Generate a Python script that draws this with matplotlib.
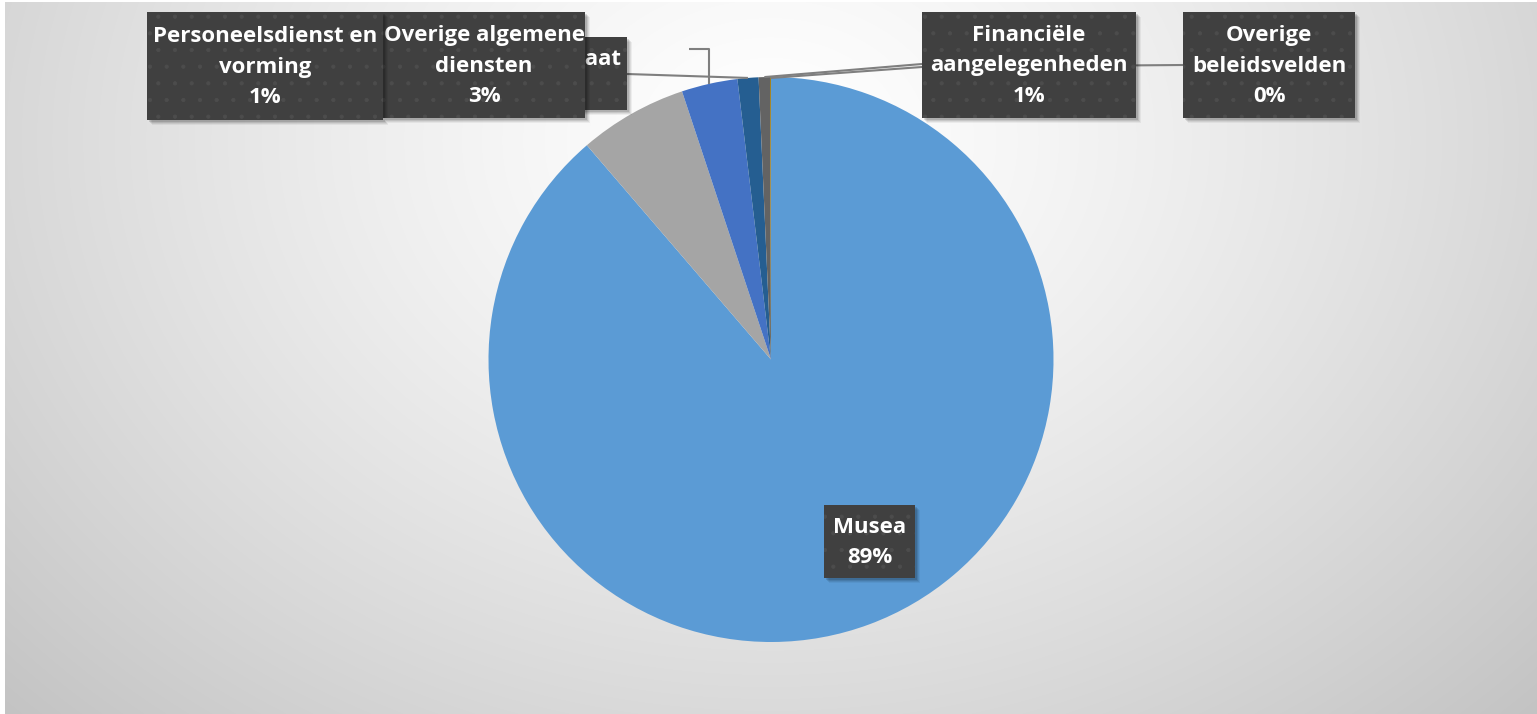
import numpy as np
import matplotlib.pyplot as plt
from matplotlib.patches import Rectangle

plt.rcParams['hatch.linewidth'] = 0.6

# data
categories = ['Musea', 'Secretariaat', 'Overige algemene diensten',
              'Personeelsdienst en vorming', 'Financiële aangelegenheden',
              'Overige beleidsvelden']
values = [88.7, 6.2, 3.2, 1.2, 0.65, 0.05]
colors = ['#5B9BD5', '#A5A5A5', '#4472C4', '#255E91', '#636363', '#997300']
label_text = ['Musea', 'Secretariaat', 'Overige algemene\ndiensten',
              'Personeelsdienst en\nvorming', 'Financiële\naangelegenheden',
              'Overige\nbeleidsvelden']

W, H = 1537, 714
fig = plt.figure(figsize=(W / 100, H / 100), dpi=100)
fig.patch.set_facecolor('white')
ax = fig.add_axes([0, 0, 1, 1])


def py(y):
    # pixel row (from top) -> data y
    return H - y


# pie
cx, cy, rad = 771, py(359.5), 282.5
wedges, _ = ax.pie(values, colors=colors, startangle=90, counterclock=False,
                   center=(cx, cy), radius=rad, frame=True)
ax.set_xlim(0, W)
ax.set_ylim(0, H)
ax.set_aspect('equal')
ax.axis('off')
for w in wedges:
    w.set_zorder(2)

# radial background gradient
gx, gy = np.meshgrid(np.arange(5, W), np.arange(2, H))
r = np.sqrt(((gx - 770) / 900.0) ** 2 + ((gy - 140) / 700.0) ** 2)
t = np.clip(r / 1.2, 0, 1) ** 1.3
g = 1.0 - t * (1 - 0.76)
img = np.dstack([g, g, g])
ax.imshow(img, extent=[5, W, py(H), py(2)], origin='upper', zorder=0,
          interpolation='bilinear', aspect='auto')

pcts = [v / sum(values) * 100 for v in values]


def rim(i):
    w = wedges[i]
    a = np.deg2rad((w.theta1 + w.theta2) / 2)
    return cx + rad * np.cos(a), cy + rad * np.sin(a)


line_kw = dict(color='#7f7f7f', lw=1.5, zorder=3, solid_capstyle='butt')

# leader lines
x1, y1 = rim(3)
ax.plot([627, x1], [py(74), y1], **line_kw)
x2, y2 = rim(2)
ax.plot([689, x2, x2], [py(49), py(49), y2], **line_kw)
x4, y4 = rim(4)
ax.plot([922, x4], [py(64), y4], **line_kw)
x5, y5 = rim(5)
ax.plot([1183, 922, x5], [py(65), py(67), y5 - 1], **line_kw)

font = dict(color='white', fontsize=16, fontweight='bold',
            family=['Open Sans', 'DejaVu Sans'], linespacing=1.6,
            multialignment='center', ha='center', va='center')

# label boxes in drawing order: (index, left, top, right, bottom) in pixels
# left None = fit box to text
boxes = [
    (1, None, 37, 627, 110),
    (2, 383, 12, 585, 118),
    (3, 147, 12, 383, 120),
    (4, 922, 12, 1136, 118),
    (5, 1183, 12, 1355, 118),
    (0, 824, 505, 915, 578),
]

fig.canvas.draw()
renderer = fig.canvas.get_renderer()

z = 4
for i, l, t_, rr, b in boxes:
    txt = f"{label_text[i]}\n{pcts[i]:.0f}%"
    tx = ax.text(0, 0, txt, zorder=z + 0.2, **font)
    if l is None:
        bb = tx.get_window_extent(renderer)
        l = rr - bb.width - 10
    for k, a in [(5, 0.05), (4, 0.07), (3, 0.09), (2, 0.12)]:
        ax.add_patch(Rectangle((l + k, py(b + k)), rr - l, b - t_,
                               facecolor='black', alpha=a, lw=0, zorder=z))
    ax.add_patch(Rectangle((l, py(b)), rr - l, b - t_, facecolor='#404040',
                           edgecolor='#4c4c4c', hatch='.', lw=0, zorder=z + 0.1))
    tx.set_position(((l + rr) / 2, py((t_ + b) / 2 + 1)))
    z += 1

fig.savefig('out.png', dpi=100, facecolor='white')
